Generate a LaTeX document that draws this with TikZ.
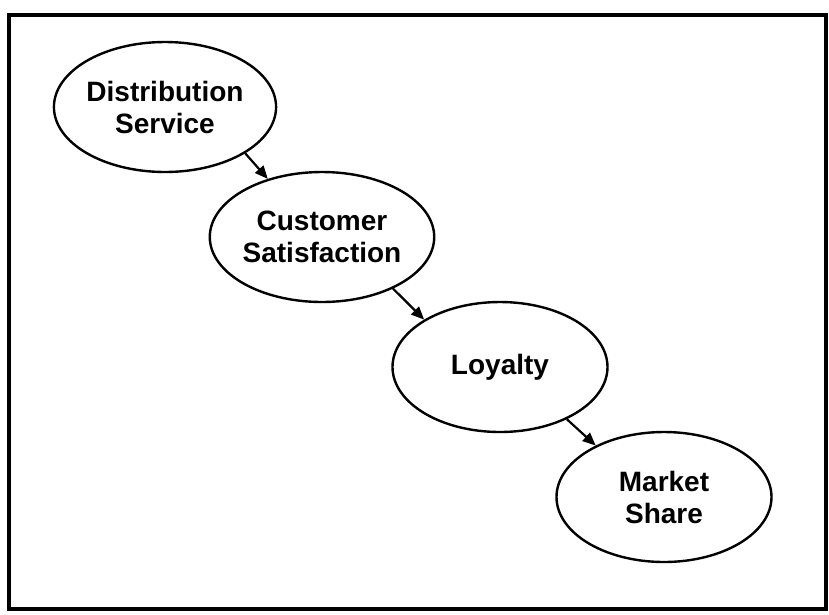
\documentclass[tikz,border=0pt]{standalone}
\usepackage{fontspec}
\setmainfont{Liberation Sans}
\usetikzlibrary{shapes.geometric,arrows.meta}
\begin{document}
\begin{tikzpicture}[x=1pt,y=-1pt,
  oval/.style={ellipse,draw,line width=2.4pt,minimum width=215pt,minimum height=130pt,inner sep=0pt,align=center,font=\fontsize{28}{32}\selectfont\bfseries},
  conn/.style={line width=2.2pt,-{Triangle[length=13pt,width=11pt]}}]
\useasboundingbox (0,0) rectangle (829,614);
\draw[line width=4.5pt] (9,15) rectangle (826,609);
\node[oval] (ds) at (165,107) {Distribution\\Service};
\node[oval] (cs) at (322,237) {Customer\\Satisfaction};
\node[oval] (lo) at (500,367) {Loyalty};
\node[oval] (ms) at (664,497) {Market\\Share};
\draw[conn] (ds.-30) -- (cs.133);
\draw[conn] (cs.-36) -- (lo.148);
\draw[conn] (lo.-38) -- (ms.143);
\end{tikzpicture}
\end{document}
